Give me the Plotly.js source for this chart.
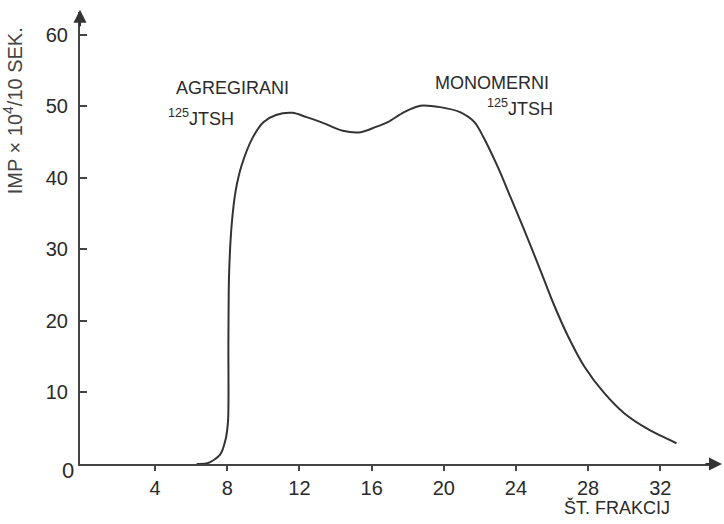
<!DOCTYPE html>
<html>
<head>
<meta charset="utf-8">
<script src="https://cdn.plot.ly/plotly-3.0.1.min.js"></script>
<style>html,body{margin:0;padding:0;background:#fff;}#chart{width:724px;height:524px;}</style>
</head>
<body>
<div id="chart"></div>
<script>
// Fraction number (ŠT. FRAKCIJ) and counts (IMP × 10^4 / 10 SEK)
const fraction = [6.3, 6.9, 7.6, 7.9, 8.04, 8.06, 8.1, 8.25, 8.47, 8.8, 9.4, 10.0, 10.7, 11.6, 12.4, 13.3, 14.4, 15.4, 16.2, 16.9, 17.8, 18.7, 19.8, 20.9, 21.7, 22.2, 23.0, 23.7, 24.4, 25.4, 26.1, 26.9, 27.8, 28.9, 30.0, 31.3, 32.9];
const counts   = [0, 0.1, 1.3, 3.4, 6, 17, 26.7, 33.7, 38.3, 41.8, 45.6, 47.8, 48.8, 49.1, 48.5, 47.7, 46.6, 46.4, 47.1, 47.8, 49.2, 50.1, 49.9, 49.2, 47.8, 45.7, 41.5, 37.3, 33.1, 26.8, 22.3, 17.8, 13.6, 9.9, 7.1, 4.9, 2.9];
const xTicks = [4, 8, 12, 16, 20, 24, 28, 32];
const yTicks = [0, 10, 20, 30, 40, 50, 60];
const yTitle = "IMP × 10<sup>4</sup>/10 SEK.";
const xTitle = "ŠT. FRAKCIJ";
const peak1Name = "AGREGIRANI";
const peak2Name = "MONOMERNI";
const tracer = "<sup>125</sup>JTSH";

const font = "Liberation Sans, Arial, sans-serif";
const ink = "#2a2a2a";

const trace = {
  x: fraction, y: counts, type: "scatter", mode: "lines",
  line: {color: "#333", width: 2, shape: "spline", smoothing: 0.8},
  hoverinfo: "skip"
};

const layout = {
  width: 724, height: 524,
  margin: {l: 80, r: 8, t: 12, b: 60},
  paper_bgcolor: "#fff", plot_bgcolor: "#fff",
  showlegend: false,
  font: {family: font, color: ink},
  xaxis: {
    range: [-0.166, 35.09], showgrid: false, zeroline: false,
    showline: true, linecolor: "#444", linewidth: 2,
    tickmode: "array", tickvals: xTicks, ticktext: xTicks.map(String),
    ticks: "outside", ticklen: 5, tickwidth: 2, tickcolor: "#444",
    tickfont: {family: font, size: 20, color: ink}
  },
  yaxis: {
    range: [0, 63.2], showgrid: false, zeroline: false,
    showline: true, linecolor: "#444", linewidth: 2,
    tickmode: "array", tickvals: yTicks.filter(v => v > 0), ticktext: yTicks.filter(v => v > 0).map(String),
    ticks: "inside", ticklen: 7, tickwidth: 2, tickcolor: "#444",
    ticklabelstandoff: 6,
    tickfont: {family: font, size: 20, color: ink}
  },
  annotations: [
    {xref: "paper", yref: "paper", x: -0.105, y: 0.781, text: yTitle, textangle: -90,
     showarrow: false, font: {size: 20, color: "#444"}, xanchor: "center", yanchor: "middle"},
    {xref: "paper", yref: "paper", x: -0.006, y: -0.014, text: String(yTicks[0]), showarrow: false,
     font: {size: 22, color: ink}, xanchor: "right", yanchor: "middle"},
    {xref: "paper", yref: "paper", x: 0.844, y: -0.097, text: xTitle, showarrow: false,
     font: {size: 18, color: ink}, xanchor: "center", yanchor: "middle"},
    {xref: "x", yref: "y", x: 8.26, y: 52.6, text: peak1Name, showarrow: false,
     font: {size: 18, color: ink}, xanchor: "center", yanchor: "middle"},
    {xref: "x", yref: "y", x: 4.6, y: 48.5, text: tracer, showarrow: false,
     font: {size: 18, color: ink}, xanchor: "left", yanchor: "middle"},
    {xref: "x", yref: "y", x: 22.7, y: 53.3, text: peak2Name, showarrow: false,
     font: {size: 18, color: ink}, xanchor: "center", yanchor: "middle"},
    {xref: "x", yref: "y", x: 22.3, y: 49.9, text: tracer, showarrow: false,
     font: {size: 18, color: ink}, xanchor: "left", yanchor: "middle"},
    // axis arrowheads
    {xref: "paper", yref: "paper", x: 1.0094, y: 0, ax: -18, ay: 0, text: "", showarrow: true,
     arrowhead: 2, arrowsize: 1.3, arrowwidth: 2, arrowcolor: "#333"},
    {xref: "paper", yref: "paper", x: 0, y: 1.005, ax: 0, ay: 18, text: "", showarrow: true,
     arrowhead: 2, arrowsize: 1.3, arrowwidth: 2, arrowcolor: "#333"}
  ]
};

Plotly.newPlot("chart", [trace], layout, {displayModeBar: false, staticPlot: true});
</script>
</body>
</html>
